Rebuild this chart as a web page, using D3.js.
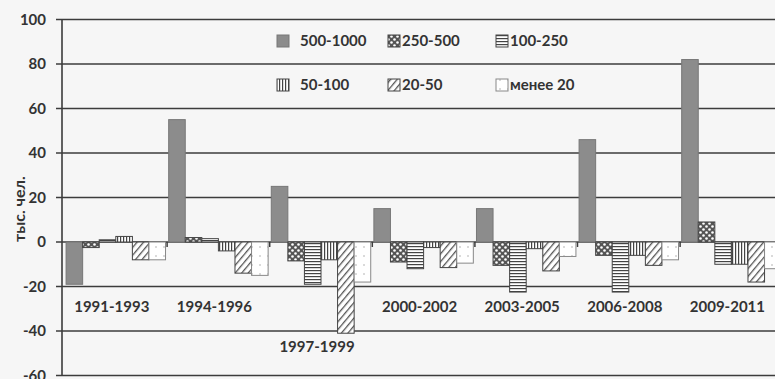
<!DOCTYPE html>
<html>
<head>
<meta charset="utf-8">
<script src="https://cdn.jsdelivr.net/npm/d3@7"></script>
<style>
  body { margin: 0; background: #f6f6f6; }
  svg text { font-family: Lato, "Open Sans", sans-serif; fill: #333; }
</style>
</head>
<body>
<svg id="chart"></svg>
<script>
// Periods on the x axis
var periods = ["1991-1993", "1994-1996", "1997-1999", "2000-2002", "2003-2005", "2006-2008", "2009-2011"];

// Settlement size groups (thousand people)
var groups = ["500-1000", "250-500", "100-250", "50-100", "20-50", "менее 20"];

// Values for each group, by period (тыс. чел.)
var v500_1000 = [-19, 55, 25, 15, 15, 46, 82];
var v250_500  = [-2.5, 2, -8.5, -9, -10.5, -6, 9];
var v100_250  = [1, 1.5, -19, -12, -22.5, -22.5, -10];
var v50_100   = [2.5, -4, -8, -2.5, -3, -6, -10];
var v20_50    = [-8, -14, -41, -11.5, -13, -10.5, -18];
var vLess20   = [-8, -15, -18, -9.5, -6.5, -8, -12];

var yTicks = [100, 80, 60, 40, 20, 0, -20, -40, -60];

var seriesValues = [v500_1000, v250_500, v100_250, v50_100, v20_50, vLess20];

var width = 775, height = 379;
var svg = d3.select("#chart").attr("width", width).attr("height", height);

// scales
var x0 = d3.scaleBand().domain(periods).range([64.5, 782.7]).paddingInner(0).paddingOuter(0);
var x1 = d3.scaleBand().domain(groups).range([0, x0.bandwidth()]).paddingOuter(0.095).paddingInner(0);
var y = d3.scaleLinear().domain([-60, 100]).range([375.5, 19.5]);

// patterns for the bar fills
var defs = svg.append("defs");

var pDots = defs.append("pattern").attr("id", "p250").attr("patternUnits", "userSpaceOnUse")
  .attr("width", 6).attr("height", 6);
pDots.append("rect").attr("width", 6).attr("height", 6).attr("fill", "#555");
pDots.append("circle").attr("cx", 1.5).attr("cy", 1.5).attr("r", 1.3).attr("fill", "#fff");
pDots.append("circle").attr("cx", 4.5).attr("cy", 4.5).attr("r", 1.3).attr("fill", "#fff");

var pHor = defs.append("pattern").attr("id", "p100").attr("patternUnits", "userSpaceOnUse")
  .attr("width", 4).attr("height", 3);
pHor.append("rect").attr("width", 4).attr("height", 3).attr("fill", "#fff");
pHor.append("rect").attr("width", 4).attr("height", 1.2).attr("fill", "#444");

var pVer = defs.append("pattern").attr("id", "p50").attr("patternUnits", "userSpaceOnUse")
  .attr("width", 3).attr("height", 4);
pVer.append("rect").attr("width", 3).attr("height", 4).attr("fill", "#fff");
pVer.append("rect").attr("width", 1.2).attr("height", 4).attr("fill", "#444");

var pDiag = defs.append("pattern").attr("id", "p20").attr("patternUnits", "userSpaceOnUse")
  .attr("width", 5).attr("height", 5).attr("patternTransform", "rotate(40)");
pDiag.append("rect").attr("width", 5).attr("height", 5).attr("fill", "#fff");
pDiag.append("rect").attr("width", 1.3).attr("height", 5).attr("fill", "#555");

var pSparse = defs.append("pattern").attr("id", "pl20").attr("patternUnits", "userSpaceOnUse")
  .attr("width", 8).attr("height", 9);
pSparse.append("rect").attr("width", 8).attr("height", 9).attr("fill", "#fff");
pSparse.append("circle").attr("cx", 4).attr("cy", 4).attr("r", 0.7).attr("fill", "#999");

var fills = ["#8c8c8c", "url(#p250)", "url(#p100)", "url(#p50)", "url(#p20)", "url(#pl20)"];
var strokes = ["#777", "#444", "#444", "#444", "#444", "#888"];

// horizontal grid lines
svg.append("g").selectAll("line").data(yTicks).join("line")
  .attr("x1", 56).attr("x2", width)
  .attr("y1", function(d) { return y(d); })
  .attr("y2", function(d) { return y(d); })
  .attr("stroke", "#3c3c3c").attr("stroke-width", 1.6);

// y axis line
svg.append("line")
  .attr("x1", 62).attr("x2", 62).attr("y1", y(100)).attr("y2", y(-60))
  .attr("stroke", "#3c3c3c").attr("stroke-width", 1.6);

// tick labels
svg.append("g").selectAll("text").data(yTicks).join("text")
  .attr("x", 46).attr("y", function(d) { return y(d); })
  .attr("dy", "0.35em").attr("text-anchor", "end")
  .style("font-size", "15px").style("font-weight", "bold")
  .text(function(d) { return d; });

// y axis title
svg.append("text")
  .attr("transform", "translate(19," + 209 + ") rotate(-90)")
  .attr("text-anchor", "middle").attr("dy", "0.35em")
  .style("font-size", "16px").style("font-weight", "bold")
  .text("тыс. чел.");

// category tick marks on the zero line
svg.append("g").selectAll("line").data(periods.slice(1)).join("line")
  .attr("x1", function(d) { return x0(d); })
  .attr("x2", function(d) { return x0(d); })
  .attr("y1", y(0)).attr("y2", y(0) + 5)
  .attr("stroke", "#3c3c3c").attr("stroke-width", 1.5);

// bars
var rows = [];
periods.forEach(function(p, i) {
  groups.forEach(function(g, j) {
    rows.push({ period: p, group: g, k: j, value: seriesValues[j][i] });
  });
});

svg.append("g").selectAll("rect").data(rows).join("rect")
  .attr("x", function(d) { return x0(d.period) + x1(d.group); })
  .attr("width", x1.bandwidth())
  .attr("y", function(d) { return y(Math.max(0, d.value)); })
  .attr("height", function(d) { return Math.abs(y(d.value) - y(0)); })
  .attr("fill", function(d) { return fills[d.k]; })
  .attr("stroke", function(d) { return strokes[d.k]; })
  .attr("stroke-width", 1);

// period labels, under the lowest bar when it drops far down
svg.append("g").selectAll("text").data(periods).join("text")
  .attr("x", function(d) { return x0(d) + x0.bandwidth() / 2 - 4; })
  .attr("y", function(d, i) {
    var low = d3.min(seriesValues, function(s) { return s[i]; });
    return Math.max(y(-29), y(low) + 14);
  })
  .attr("dy", "0.35em").attr("text-anchor", "middle")
  .style("font-size", "15px").style("font-weight", "bold")
  .text(function(d) { return d; });

// legend, two rows of three
var legendX = [277, 388, 496];
var legendTextX = [300, 402, 510];
var legendY = [41, 85];

var legend = svg.append("g").selectAll("g").data(groups).join("g")
  .attr("transform", function(d, i) {
    return "translate(0," + legendY[Math.floor(i / 3)] + ")";
  });

legend.append("rect")
  .attr("x", function(d, i) { return legendX[i % 3]; })
  .attr("y", -6).attr("width", 12).attr("height", 12)
  .attr("fill", function(d, i) { return fills[i]; })
  .attr("stroke", function(d, i) { return strokes[i]; });

legend.append("text")
  .attr("x", function(d, i) { return legendTextX[i % 3]; })
  .attr("dy", "0.35em")
  .style("font-size", "15px").style("font-weight", "bold")
  .text(function(d) { return d; });
</script>
</body>
</html>
